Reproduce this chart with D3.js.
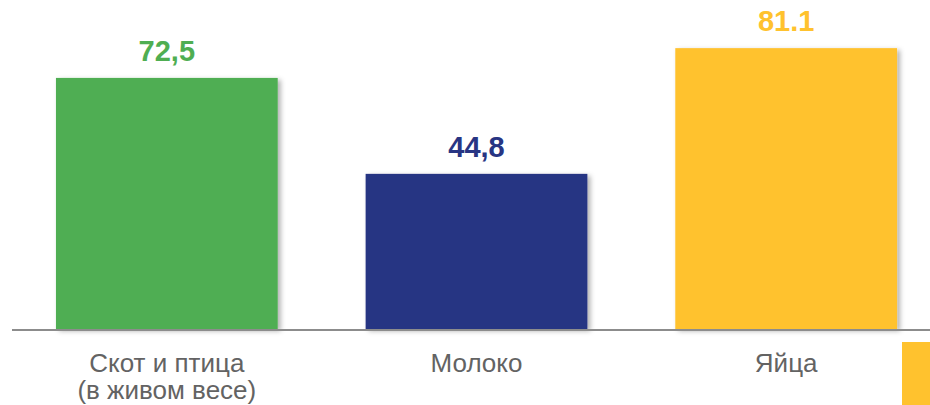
<!DOCTYPE html>
<html>
    <head>
        <meta charset="UTF-8">
        <script src="https://d3js.org/d3.v7.min.js"></script>
        <style>
            body { margin: 0; background: #fff; }
            text { font-family: "Liberation Sans", Arial, sans-serif; }
        </style>
    </head>
    <body>
        <script>
            var w = 930, h = 405, base = 329;
            var categories = [["Скот и птица", "(в живом весе)"], ["Молоко"], ["Яйца"]];
            var values = [72.5, 44.8, 81.1];
            var labels = ["72,5", "44,8", "81.1"];
            var colors = ["#4FAE52", "#283583", "#FFC22E"];

            var xScale = d3.scaleBand()
                    .domain(d3.range(values.length))
                    .range([12, 941])
                    .paddingInner(88 / 310)
                    .paddingOuter(44 / 310);

            var yScale = d3.scaleLinear()
                    .domain([0, 95])
                    .range([base, 0]);

            var svg = d3.select("body")
                    .append("svg")
                    .attr("width", w)
                    .attr("height", h);

            var filt = svg.append("defs").append("filter")
                    .attr("id", "shadow")
                    .attr("x", "-10%").attr("y", "-10%")
                    .attr("width", "130%").attr("height", "130%");
            filt.append("feDropShadow")
                    .attr("dx", 3).attr("dy", 2)
                    .attr("stdDeviation", 2.5)
                    .attr("flood-color", "#000")
                    .attr("flood-opacity", 0.3);

            svg.selectAll("rect.bar")
                    .data(values)
                    .enter()
                    .append("rect")
                    .attr("class", "bar")
                    .attr("x", function(d, i) { return xScale(i); })
                    .attr("y", function(d) { return yScale(d); })
                    .attr("width", xScale.bandwidth())
                    .attr("height", function(d) { return base - yScale(d); })
                    .attr("fill", function(d, i) { return colors[i]; })
                    .attr("filter", "url(#shadow)");

            // axis line
            svg.append("line")
                    .attr("x1", 12).attr("x2", w)
                    .attr("y1", base + 1).attr("y2", base + 1)
                    .attr("stroke", "#8c8c8c")
                    .attr("stroke-width", 2);

            svg.selectAll("text.val")
                    .data(values)
                    .enter()
                    .append("text")
                    .attr("class", "val")
                    .attr("x", function(d, i) { return xScale(i) + xScale.bandwidth() / 2; })
                    .attr("y", function(d) { return yScale(d) - 17; })
                    .attr("text-anchor", "middle")
                    .attr("font-size", 29)
                    .attr("font-weight", "bold")
                    .attr("fill", function(d, i) { return colors[i]; })
                    .text(function(d, i) { return labels[i]; });

            var cat = svg.selectAll("text.cat")
                    .data(categories)
                    .enter()
                    .append("text")
                    .attr("class", "cat")
                    .attr("text-anchor", "middle")
                    .attr("font-size", 26)
                    .attr("fill", "#636363");
            cat.selectAll("tspan")
                    .data(function(d, i) { return d.map(function(s) { return { s: s, i: i }; }); })
                    .enter()
                    .append("tspan")
                    .attr("x", function(d) { return xScale(d.i) + xScale.bandwidth() / 2; })
                    .attr("y", function(d, j) { return 372 + j * 27; })
                    .text(function(d) { return d.s; });

            // decoration in corner
            svg.append("rect")
                    .attr("x", 902).attr("y", 342)
                    .attr("width", 28).attr("height", 63)
                    .attr("fill", colors[2]);
        </script>
    </body>
</html>
